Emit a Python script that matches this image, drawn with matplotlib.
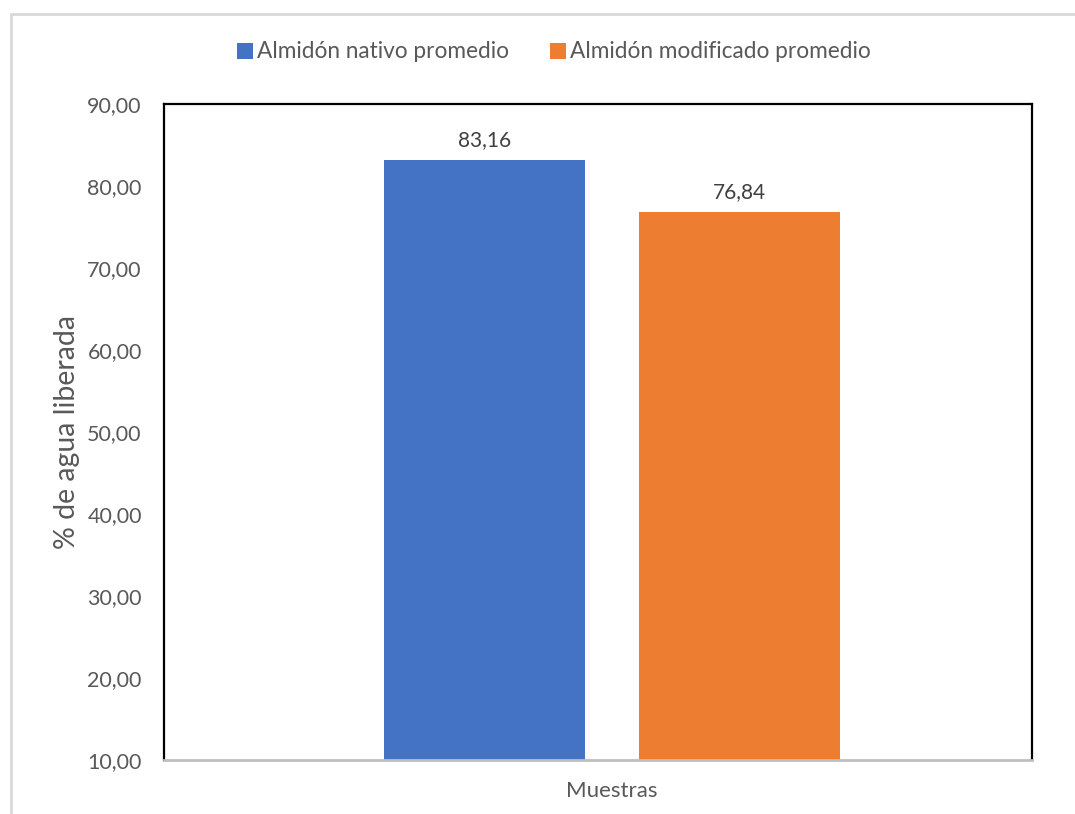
import matplotlib
matplotlib.use("Agg")
import matplotlib.pyplot as plt
from matplotlib.patches import Rectangle, Patch

categories = ["Muestras"]
series_names = ["Almidón nativo promedio", "Almidón modificado promedio"]
series_values = [[83.16], [76.84]]
value_labels = ["83,16", "76,84"]
yticks = [10, 20, 30, 40, 50, 60, 70, 80, 90]
ytick_labels = ["10,00", "20,00", "30,00", "40,00", "50,00", "60,00", "70,00", "80,00", "90,00"]
colors = ["#4472C4", "#ED7D31"]

plt.rcParams['font.family'] = ['Lato', 'DejaVu Sans']

W, H = 1075, 814
fig = plt.figure(figsize=(W / 100, H / 100), dpi=100)
fig.patch.set_facecolor("white")

# outer chart border
fig.patches.append(Rectangle((10.5 / W, -0.1), 1.2, (H - 13.5) / H + 0.1,
                             transform=fig.transFigure, fill=False,
                             edgecolor="#D9D9D9", linewidth=2, zorder=0))

ax = fig.add_axes([164 / W, 1 - 760 / H, (1032 - 164) / W, (760 - 104) / H])

width = 201 / 868
offsets = [-127.5 / 868, 127.5 / 868]
for i, (name, vals) in enumerate(zip(series_names, series_values)):
    xs = [j + offsets[i] for j in range(len(categories))]
    bars = ax.bar(xs, vals, width=width, color=colors[i], label=name, zorder=2)
    for b, lab in zip(bars, [value_labels[i]]):
        ax.annotate(lab, (b.get_x() + b.get_width() / 2, b.get_height()),
                    xytext=(0, 7), textcoords="offset points",
                    ha="center", va="bottom", fontsize=15, color="#404040")

ax.set_xlim(-(612 - 164) / 868, (1032 - 612) / 868)
ax.set_ylim(10, 90)
ax.set_yticks(yticks)
ax.set_yticklabels(ytick_labels)
ax.set_xticks(range(len(categories)))
ax.set_xticklabels(categories)
ax.tick_params(axis="y", length=0, pad=16, labelsize=15.5, labelcolor="#595959")
ax.tick_params(axis="x", length=0, pad=15, labelsize=16, labelcolor="#595959")
ax.set_ylabel("% de agua liberada", fontsize=20.5, color="#595959", labelpad=5)

for s in ["left", "top", "right"]:
    ax.spines[s].set_color("black")
    ax.spines[s].set_linewidth(1.6)
ax.spines["bottom"].set_color("#BFBFBF")
ax.spines["bottom"].set_linewidth(2)
ax.spines["bottom"].set_zorder(3)

handles = [Patch(facecolor=c) for c in colors]
fig.legend(handles, series_names, loc="center", bbox_to_anchor=(554 / W, 1 - 52 / H),
           ncol=2, frameon=False, fontsize=16.3, labelcolor="#595959",
           handlelength=0.7, handleheight=0.7, handletextpad=0.2, columnspacing=1.8)

fig.savefig("out.png", dpi=100)
